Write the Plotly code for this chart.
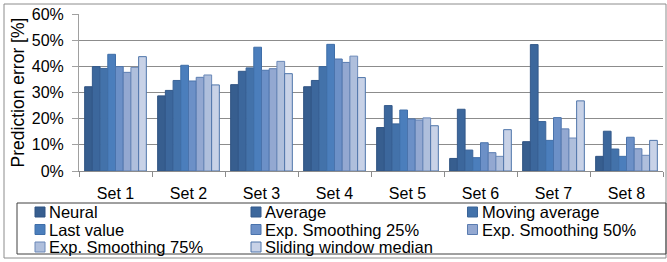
import plotly.graph_objects as go

categories = ["Set 1", "Set 2", "Set 3", "Set 4", "Set 5", "Set 6", "Set 7", "Set 8"]
series_names = ["Neural", "Average", "Moving average", "Last value",
                "Exp. Smoothing 25%", "Exp. Smoothing 50%", "Exp. Smoothing 75%",
                "Sliding window median"]

neural = [32.2, 28.7, 33.0, 32.2, 16.6, 4.8, 11.2, 5.6]
average = [39.9, 30.8, 38.1, 34.6, 25.0, 23.6, 48.3, 15.2]
moving_average = [39.2, 34.6, 39.4, 39.9, 18.0, 8.0, 18.9, 8.4]
last_value = [44.6, 40.4, 47.3, 48.4, 23.3, 5.1, 11.7, 5.6]
exp_smoothing_25 = [39.9, 34.4, 38.5, 42.8, 19.9, 10.8, 20.4, 12.9]
exp_smoothing_50 = [37.7, 35.8, 39.1, 41.5, 19.5, 7.0, 16.1, 8.5]
exp_smoothing_75 = [39.6, 36.7, 41.9, 43.9, 20.3, 5.6, 12.6, 6.0]
sliding_window_median = [43.7, 32.9, 37.2, 35.7, 17.3, 15.8, 26.8, 11.7]

series_values = [neural, average, moving_average, last_value,
                 exp_smoothing_25, exp_smoothing_50, exp_smoothing_75,
                 sliding_window_median]

fills = ["#375E8F", "#3C679C", "#4372AA", "#4B7EBC", "#6C90C7", "#93A8D1", "#AFBFDC", "#C8D2E7"]
lines = ["#2F5282", "#33598A", "#3A6498", "#3F6EA8", "#4A73AC", "#5A7CB0", "#6A88B8", "#4F75AA"]

fig = go.Figure()
for name, vals, fc, lc in zip(series_names, series_values, fills, lines):
    fig.add_trace(go.Bar(
        x=categories, y=[v / 100 for v in vals], name=name,
        marker=dict(color=fc, line=dict(color=lc, width=1)),
        showlegend=False,
    ))

W, H = 667, 262
L, R, T, B = 79, 4, 14, 91
pw = W - L - R
ph = H - T - B

def px(x):
    return (x - L) / pw

def py(y):
    return (H - B - y) / ph

FONT = "Liberation Sans, Arial, sans-serif"

shapes = [
    dict(type="rect", xref="paper", yref="paper",
         x0=px(4), x1=px(666), y0=py(258), y1=py(4),
         line=dict(color="#8c8c8c", width=1), fillcolor="rgba(0,0,0,0)", layer="below"),
    dict(type="rect", xref="paper", yref="paper",
         x0=px(17), x1=px(666), y0=py(254), y1=py(203),
         line=dict(color="#404040", width=1), fillcolor="rgba(0,0,0,0)", layer="above"),
]
annotations = []

# legend laid out as 3 columns x 3 rows
col_marker_x = [40, 256, 472.5]
col_text_x = [46.5, 262.5, 479.5]
row_y = [212, 229.5, 247]
for i, (name, fc, lc) in enumerate(zip(series_names, fills, lines)):
    r, c = divmod(i, 3)
    cx, cy = col_marker_x[c], row_y[r]
    shapes.append(dict(type="rect", xref="paper", yref="paper",
                       x0=px(cx - 5), x1=px(cx + 5), y0=py(cy + 5), y1=py(cy - 5),
                       fillcolor=fc, line=dict(color=lc, width=1), layer="above"))
    annotations.append(dict(xref="paper", yref="paper", x=px(col_text_x[c]), y=py(cy),
                            xanchor="left", yanchor="middle", text=name, showarrow=False,
                            font=dict(size=16.5, family=FONT, color="black")))

fig.update_layout(
    width=W, height=H,
    margin=dict(l=L, r=R, t=T, b=B, autoexpand=False),
    paper_bgcolor="white", plot_bgcolor="white",
    barmode="group", bargap=0.155, bargroupgap=0,
    font=dict(family=FONT, color="black"),
    showlegend=False,
    xaxis=dict(
        type="category", range=[-0.5, 7.5],
        showline=True, linecolor="#8c8c8c", linewidth=1,
        ticks="outside", tickson="boundaries", ticklen=5, tickcolor="#8c8c8c",
        tickfont=dict(size=16, family=FONT, color="black"),
        ticklabelstandoff=8,
        showgrid=False, zeroline=False, fixedrange=True,
    ),
    yaxis=dict(
        range=[0, 0.6], dtick=0.1, tickformat=".0%",
        showline=True, linecolor="#a0a0a0", linewidth=1,
        ticks="outside", ticklen=6, tickcolor="#a0a0a0",
        tickfont=dict(size=16, family=FONT, color="black"),
        ticklabelstandoff=5,
        showgrid=True, gridcolor="#8c8c8c", gridwidth=1,
        zeroline=False,
        title=dict(text="Prediction error [%]", font=dict(size=17.5, family=FONT, color="black"), standoff=2),
        automargin=False,
    ),
    shapes=shapes,
    annotations=annotations,
)

fig.write_html("out.html", config={"displayModeBar": False},
               post_script="document.body.style.margin='0px';document.body.style.padding='0px';")
